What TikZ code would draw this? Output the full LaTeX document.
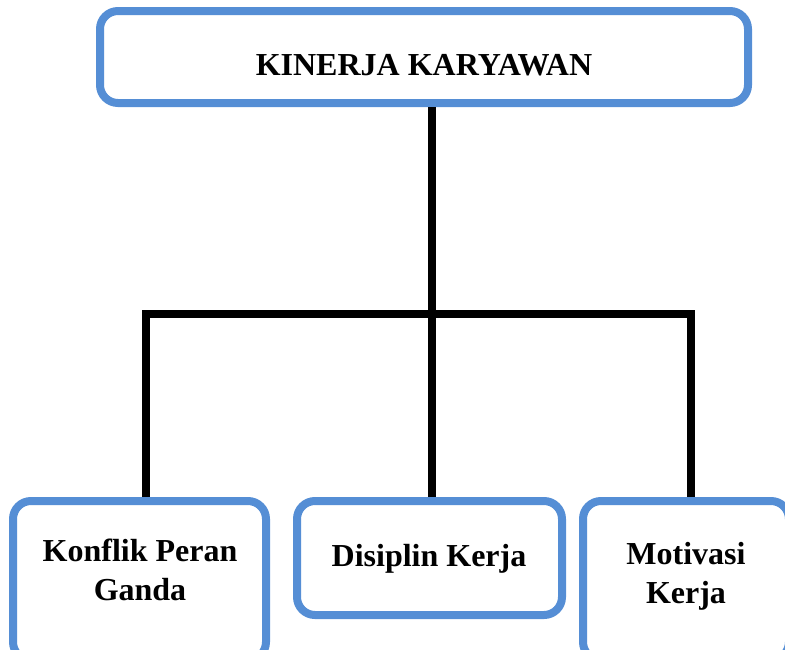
\documentclass[tikz,border=0pt]{standalone}
\usepackage{fontspec}
\setmainfont{Liberation Serif}
\definecolor{boxblue}{RGB}{85,142,213}
\begin{document}
\begin{tikzpicture}[x=1pt,y=-1pt,
  box/.style={draw=boxblue,line width=8pt,rounded corners=18pt,fill=white,inner sep=0pt,outer sep=4pt},
  lbl/.style={font=\fontsize{32}{39}\selectfont\bfseries,align=center,inner sep=0pt,anchor=base},
  conn/.style={draw=black,line width=7.5pt}]
\useasboundingbox (0,0) rectangle (785,649);
\node[box,minimum width=648pt,minimum height=92pt] (top) at (424,57) {};
\node[box,minimum width=253pt,minimum height=159pt] (left) at (139.5,580.5) {};
\node[box,minimum width=265pt,minimum height=114pt] (mid) at (429.5,558) {};
\node[box,minimum width=206pt,minimum height=159pt] (right) at (686,580.5) {};
\coordinate (j) at (432,314);
\coordinate (jl) at (146,314);
\coordinate (jr) at (691,314);
\draw[conn] (j |- top.south) -- (j);
\draw[conn] (jl |- left.north) -- (jl) -- (jr) -- (jr |- right.north);
\draw[conn] (j) -- (j |- mid.north);
\node[lbl] (ttop) at (424,75) {KINERJA KARYAWAN};
\node[lbl] (tleft) at (140,600) {Konflik Peran\\Ganda};
\node[lbl] (tmid) at (429,566) {Disiplin Kerja};
\node[lbl] (tright) at (686,603) {Motivasi\\Kerja};
\end{tikzpicture}
\end{document}
